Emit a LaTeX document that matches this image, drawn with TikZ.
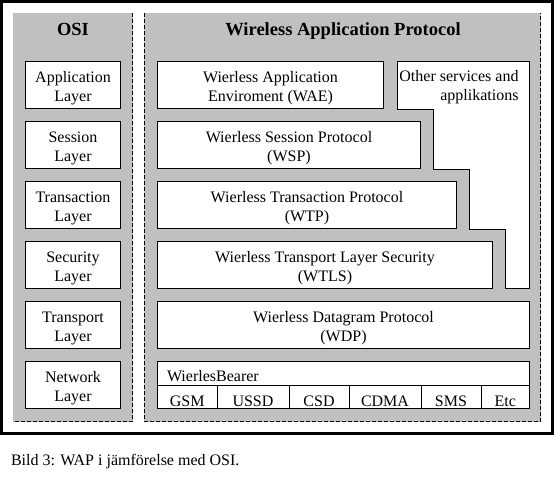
\documentclass[tikz,border=0pt]{standalone}
\usepackage{fontspec}
\setmainfont{Liberation Serif}
\definecolor{panelgray}{HTML}{C0C0C0}
\tikzset{
  boxframe/.style={draw=black, line width=1pt, fill=white, inner sep=0pt, outer sep=0pt, anchor=north west},
  boxtext/.style={inner sep=0pt, outer sep=0pt, align=center, font=\fontsize{16}{19}\selectfont},
  celltext/.style={inner sep=0pt, outer sep=0pt, anchor=base, font=\fontsize{16}{19}\selectfont},
  titletext/.style={inner sep=0pt, outer sep=0pt, anchor=base, font=\fontsize{18.5}{22}\selectfont\bfseries},
  panel/.style={fill=panelgray},
  sepline/.style={draw=black, line width=1pt, dash pattern=on 4pt off 2pt},
}
\begin{document}
\begin{tikzpicture}[x=1pt,y=-1pt]
\useasboundingbox (0,0) rectangle (554,481);
% outer frame
\draw[line width=3pt] (1.5,1.5) rectangle (552.5,433);
% panels
\fill[panel] (13,13) rectangle (133,422);
\fill[panel] (144,13) rectangle (541,422);
\draw[sepline] (132.5,13) -- (132.5,421.5) -- (13,421.5);
\draw[sepline] (144.5,13) -- (144.5,421.5) -- (540.5,421.5) -- (540.5,13);
% titles
\node[titletext] (osititle) at (73,35.7) {OSI};
\node[titletext] (waptitle) at (343,35.7) {Wireless Application Protocol};
% OSI boxes
\node[boxframe, minimum width=95pt, minimum height=47pt] (app) at (25.5,61.5) {};
\node[boxframe, minimum width=95pt, minimum height=47pt] (ses) at (25.5,121.5) {};
\node[boxframe, minimum width=95pt, minimum height=47pt] (tra) at (25.5,181.5) {};
\node[boxframe, minimum width=95pt, minimum height=47pt] (sec) at (25.5,241.5) {};
\node[boxframe, minimum width=95pt, minimum height=47pt] (trp) at (25.5,301.5) {};
\node[boxframe, minimum width=95pt, minimum height=47pt] (net) at (25.5,361.5) {};
\node[boxtext] (app-t) at ([yshift=-2.9pt]app.center) {\strut Application\\\strut Layer};
\node[boxtext] (ses-t) at ([yshift=-2.9pt]ses.center) {\strut Session\\\strut Layer};
\node[boxtext] (tra-t) at ([yshift=-2.9pt]tra.center) {\strut Transaction\\\strut Layer};
\node[boxtext] (sec-t) at ([yshift=-2.9pt]sec.center) {\strut Security\\\strut Layer};
\node[boxtext] (trp-t) at ([yshift=-2.9pt]trp.center) {\strut Transport\\\strut Layer};
\node[boxtext] (net-t) at ([yshift=-2.9pt]net.center) {\strut Network\\\strut Layer};
% WAP boxes
\node[boxframe, minimum width=226pt, minimum height=47pt] (wae) at (157.5,61.5) {};
\node[boxframe, minimum width=263pt, minimum height=47pt] (wsp) at (157.5,121.5) {};
\node[boxframe, minimum width=299pt, minimum height=47pt] (wtp) at (157.5,181.5) {};
\node[boxframe, minimum width=335pt, minimum height=47pt] (wtls) at (157.5,241.5) {};
\node[boxframe, minimum width=372pt, minimum height=47pt] (wdp) at (157.5,301.5) {};
\node[boxtext] (wae-t) at ([yshift=-2.9pt]wae.center) {\strut Wierless Application\\\strut Enviroment (WAE)};
\node[boxtext] (wsp-t) at ([yshift=-2.9pt]wsp.center) {\strut Wierless Session Protocol\\\strut (WSP)};
\node[boxtext] (wtp-t) at ([yshift=-2.9pt]wtp.center) {\strut Wierless Transaction Protocol\\\strut (WTP)};
\node[boxtext] (wtls-t) at ([yshift=-2.9pt]wtls.center) {\strut Wierless Transport Layer Security\\\strut (WTLS)};
\node[boxtext] (wdp-t) at ([yshift=-2.9pt]wdp.center) {\strut Wierless Datagram Protocol\\\strut (WDP)};
% other services staircase
\draw[line width=1pt, fill=white] (397.5,61.5) -- (529.5,61.5) -- (529.5,288.5) -- (505.5,288.5)
  -- (505.5,229.5) -- (469.5,229.5) -- (469.5,169.5) -- (433.5,169.5) -- (433.5,109.5)
  -- (397.5,109.5) -- cycle;
\node[boxtext, align=right, anchor=north east] (other) at (518.5,68.4) {\strut Other services and\\\strut applikations};
% bearer
\node[boxframe, minimum width=372pt, minimum height=23.5pt] (bearer) at (157.5,361.5) {};
\node[celltext, anchor=base west] (bearer-t) at (167,381.7) {WierlesBearer};
\node[boxframe, minimum width=59.5pt, minimum height=23.5pt] (gsm) at (157.5,385) {};
\node[boxframe, minimum width=72pt, minimum height=23.5pt] (ussd) at (217,385) {};
\node[boxframe, minimum width=60pt, minimum height=23.5pt] (csd) at (289,385) {};
\node[boxframe, minimum width=72pt, minimum height=23.5pt] (cdma) at (349,385) {};
\node[boxframe, minimum width=60pt, minimum height=23.5pt] (sms) at (421,385) {};
\node[boxframe, minimum width=48.5pt, minimum height=23.5pt] (etc) at (481,385) {};
\node[celltext] (gsm-t) at (gsm.center |- 0,406) {GSM};
\node[celltext] (ussd-t) at (ussd.center |- 0,406) {USSD};
\node[celltext] (csd-t) at (csd.center |- 0,406) {CSD};
\node[celltext] (cdma-t) at (cdma.center |- 0,406) {CDMA};
\node[celltext] (sms-t) at (sms.center |- 0,406) {SMS};
\node[celltext] (etc-t) at (etc.center |- 0,406) {Etc};
% caption
\node[celltext, anchor=base west] (caption) at (11,465) {Bild 3: WAP i jämförelse med OSI.};
\end{tikzpicture}
\end{document}
